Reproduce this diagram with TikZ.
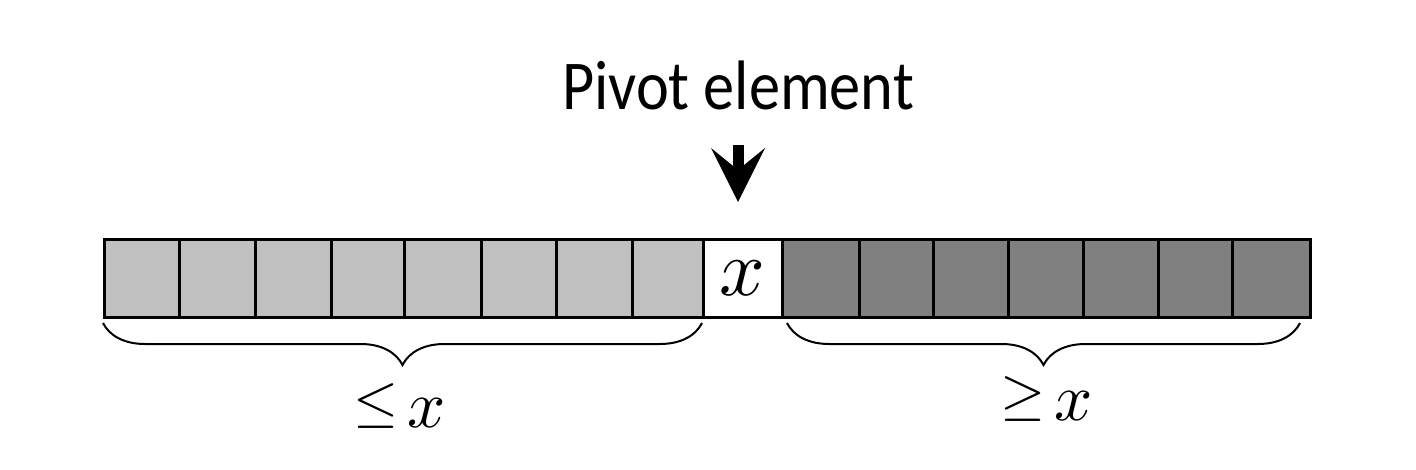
\documentclass[tikz,border=0pt]{standalone}
\usepackage{fontspec}
\newfontfamily\labelfont{Carlito}
\usetikzlibrary{arrows.meta,decorations.pathreplacing,calc}
\definecolor{lightcell}{RGB}{192,192,192}
\definecolor{darkcell}{RGB}{128,128,128}
\newcommand{\bigrel}[1]{\raisebox{6pt}{\scalebox{5.8}{$#1$}}\hspace{9pt}\scalebox{6.7}{$x$}}
\begin{document}
\begin{tikzpicture}[x=1pt,y=-1pt,
  cell/.style={draw=black, line width=3pt, minimum height=77pt, inner sep=0pt, outer sep=0pt},
  bracestyle/.style={draw=black, line width=2pt, decorate, decoration={brace, amplitude=42pt}},
  pivotarrow/.style={line width=11pt, -{Stealth[length=54pt, width=54pt, inset=22pt, line width=0pt]}},
  toplabel/.style={font=\labelfont\fontsize{70}{80}\selectfont, inner sep=0pt, anchor=base, xscale=0.89},
  bracelabel/.style={inner sep=0pt, anchor=base}]
\useasboundingbox (0,0) rectangle (1416,470);
% cells
\foreach \i/\a/\b/\f in {1/104/179/lightcell, 2/179/255/lightcell, 3/255/331/lightcell,
   4/331/404/lightcell, 5/404/481/lightcell, 6/481/556/lightcell, 7/556/632/lightcell,
   8/632/703/lightcell, 10/782/859/darkcell, 11/859/933/darkcell, 12/933/1008/darkcell,
   13/1008/1083/darkcell, 14/1083/1158/darkcell, 15/1158/1232/darkcell, 16/1232/1310/darkcell}
  \node[cell, fill=\f, minimum width={(\b-\a)*1pt}] (c\i) at ({(\a+\b)/2}, 278.5) {};
\node[cell, fill=white, minimum width=79pt] (c9) at (742.5, 278.5) {\scalebox{8}{$x$}};
% label and arrow
\node[toplabel] (lbl) at (738,110) {Pivot element};
\draw[pivotarrow] ($(lbl.base)+(0,35)$) -- ($(lbl.base |- c9.north)+(0,-38)$);
% braces
\draw[bracestyle] ($(c8.south east)+(-1,6)$) -- ($(c1.south west)+(-1,6)$);
\draw[bracestyle] ($(c16.south east)+(-10,6)$) -- ($(c10.south west)+(5,6)$);
% brace labels
\node[bracelabel] (le) at (400,427) {\bigrel{\leq}};
\node[bracelabel] (ge) at (1046.5,420) {\bigrel{\geq}};
\end{tikzpicture}
\end{document}
